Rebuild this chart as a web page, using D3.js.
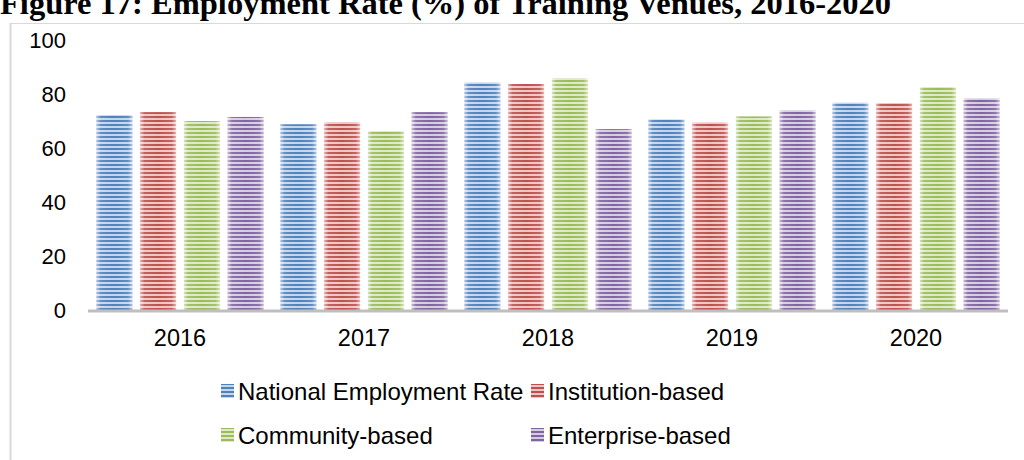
<!DOCTYPE html>
<html>
<head>
<meta charset="utf-8">
<script src="https://cdn.jsdelivr.net/npm/d3@7"></script>
<style>
  body { margin: 0; background: #fff; }
  svg { display: block; }
</style>
</head>
<body>
<div id="chart"></div>
<script>
const years = ["2016", "2017", "2018", "2019", "2020"];
const seriesNames = ["National Employment Rate", "Institution-based", "Community-based", "Enterprise-based"];
const national = [72.2, 68.8, 84.3, 70.6, 76.8];
const institution = [73.3, 69.6, 83.7, 69.5, 76.7];
const community = [70.0, 66.3, 85.9, 71.7, 82.6];
const enterprise = [71.5, 73.3, 67.0, 74.0, 78.4];
const yTicks = [0, 20, 40, 60, 80, 100];

const seriesValues = [national, institution, community, enterprise];
const colors = [
  { dark: "#4f81bd", light: "#c5d5ea" },
  { dark: "#c0504d", light: "#ebc6c5" },
  { dark: "#9bbb59", light: "#dde9c8" },
  { dark: "#8064a2", light: "#d6cce2" }
];

const width = 1024, height = 460;
const svg = d3.select("#chart").append("svg")
  .attr("width", width)
  .attr("height", height);

const defs = svg.append("defs");
colors.forEach((c, i) => {
  const p = defs.append("pattern")
    .attr("id", "stripe" + i)
    .attr("patternUnits", "userSpaceOnUse")
    .attr("width", 8).attr("height", 4);
  p.append("rect").attr("width", 8).attr("height", 4).attr("fill", c.light);
  p.append("rect").attr("y", 0).attr("width", 8).attr("height", 2).attr("fill", c.dark);
});
// soft edges on each bar
const grad = defs.append("linearGradient").attr("id", "edge")
  .attr("x1", 0).attr("x2", 1).attr("y1", 0).attr("y2", 0);
grad.append("stop").attr("offset", "0%").attr("stop-color", "#fff").attr("stop-opacity", 0.55);
grad.append("stop").attr("offset", "12%").attr("stop-color", "#fff").attr("stop-opacity", 0.1);
grad.append("stop").attr("offset", "50%").attr("stop-color", "#fff").attr("stop-opacity", 0);
grad.append("stop").attr("offset", "88%").attr("stop-color", "#fff").attr("stop-opacity", 0.1);
grad.append("stop").attr("offset", "100%").attr("stop-color", "#fff").attr("stop-opacity", 0.55);

// frame
svg.append("line").attr("x1", 10.5).attr("x2", 10.5).attr("y1", 23).attr("y2", height)
  .attr("stroke", "#d9d9d9").attr("stroke-width", 2);
svg.append("line").attr("x1", 10).attr("x2", width).attr("y1", 23.5).attr("y2", 23.5)
  .attr("stroke", "#d9d9d9").attr("stroke-width", 1);

// title (partly cut off at the top)
svg.append("text")
  .attr("x", 0).attr("y", 14)
  .attr("font-family", "Liberation Serif, Times New Roman, serif")
  .attr("font-weight", "bold")
  .attr("font-size", 32.5)
  .attr("fill", "#000")
  .text("Figure 17: Employment Rate (%) of Training Venues, 2016-2020");

const x0 = d3.scaleBand().domain(years).range([88, 1008]).paddingInner(0.092).paddingOuter(0.046);
const x1 = d3.scaleBand().domain(d3.range(4)).range([0, x0.bandwidth()]).paddingInner(0.18);
const y = d3.scaleLinear().domain([0, 100]).range([310, 40]);

// y tick labels
svg.append("g").selectAll("text").data(yTicks).join("text")
  .attr("x", 66).attr("y", d => y(d))
  .attr("dy", "0.36em")
  .attr("text-anchor", "end")
  .attr("font-family", "Liberation Sans, Arial, sans-serif")
  .attr("font-size", 22)
  .attr("fill", "#000")
  .text(d => d);

// bars
const groups = svg.append("g").selectAll("g").data(years).join("g")
  .attr("transform", d => `translate(${x0(d)},0)`);
groups.each(function(yr, yi) {
  const g = d3.select(this);
  seriesValues.forEach((vals, si) => {
    const bx = x1(si), by = y(vals[yi]), bw = x1.bandwidth(), bh = y(0) - y(vals[yi]);
    g.append("rect").attr("x", bx).attr("y", by).attr("width", bw).attr("height", bh)
      .attr("fill", `url(#stripe${si})`);
    g.append("rect").attr("x", bx).attr("y", by).attr("width", bw).attr("height", bh)
      .attr("fill", "url(#edge)");
  });
});

// x axis line
svg.append("line").attr("x1", 88).attr("x2", 1008).attr("y1", y(0) + 1).attr("y2", y(0) + 1)
  .attr("stroke", "#bfbfbf").attr("stroke-width", 3);

// x labels
svg.append("g").selectAll("text").data(years).join("text")
  .attr("x", d => x0(d) + x0.bandwidth() / 2)
  .attr("y", 346)
  .attr("text-anchor", "middle")
  .attr("font-family", "Liberation Sans, Arial, sans-serif")
  .attr("font-size", 23.5)
  .attr("fill", "#000")
  .text(d => d);

// legend
const legendPos = [[221, 391], [531, 391], [221, 435], [531, 435]];
const legend = svg.append("g").selectAll("g").data(seriesNames).join("g")
  .attr("transform", (d, i) => `translate(${legendPos[i][0]},${legendPos[i][1]})`);
legend.append("rect").attr("x", 0).attr("y", -7).attr("width", 13).attr("height", 14)
  .attr("fill", (d, i) => `url(#stripe${i})`);
legend.append("text").attr("x", 17).attr("y", 0).attr("dy", "0.36em")
  .attr("font-family", "Liberation Sans, Arial, sans-serif")
  .attr("font-size", 24)
  .attr("fill", "#000")
  .text(d => d);
</script>
</body>
</html>
